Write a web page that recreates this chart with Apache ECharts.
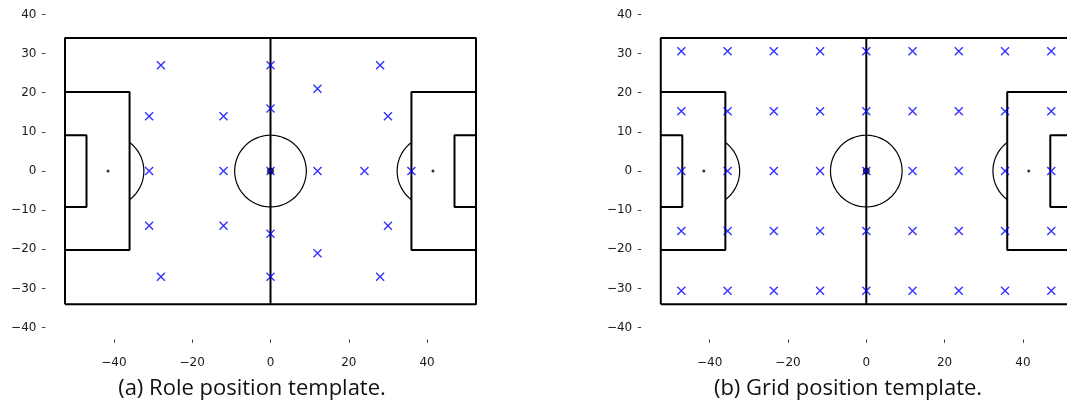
<!DOCTYPE html>
<html>
<head>
<meta charset="utf-8">
<script src="https://cdn.jsdelivr.net/npm/echarts@6/dist/echarts.min.js"></script>
<style>html,body{margin:0;padding:0;background:#fff;}#c{width:1067px;height:405px;}</style>
</head>
<body>
<div id="c"></div>
<script>
// ---- data ----
const captions = ['(a) Role position template.', '(b) Grid position template.'];
const xTicks = [-40, -20, 0, 20, 40];
const yTicks = [-40, -30, -20, -10, 0, 10, 20, 30, 40];

// role template positions (22 players)
const roleX = [-28, -31, -12, 0, 0, -31, -12, 0, -31, -28, -12, 0, 0, 12, 28, 30, 12, 24, 36, 12, 28, 30];
const roleY = [27, 14, 14, 27, 16, 0, 0, 0, -14, -27, -14, -16, -27, 21, 27, 14, 0, 0, 0, -21, -27, -14];

// grid template columns / rows
const gridCols = [-47.25, -35.44, -23.63, -11.81, 0, 11.81, 23.63, 35.44, 47.25];
const gridRows = [-30.6, -15.3, 0, 15.3, 30.6];

// pitch dimensions (metres)
const pitchLength = 105, pitchWidth = 68;
const boxDepth = 16.5, boxWidth = 40.32;
const goalDepth = 5.5, goalWidth = 18.32;
const circleRadius = 9.15, penaltyDist = 11;

// ---- build ----
const L = pitchLength / 2, W = pitchWidth / 2;
function circlePts(cx, cy, r, a0, a1) {
  const pts = [];
  const n = 90;
  for (let i = 0; i <= n; i++) {
    const a = (a0 + (a1 - a0) * i / n) * Math.PI / 180;
    pts.push([cx + r * Math.cos(a), cy + r * Math.sin(a)]);
  }
  return pts;
}
const arcAng = Math.acos((boxDepth - penaltyDist) / circleRadius) * 180 / Math.PI;
const thick = [
  [[-L, -W], [L, -W], [L, W], [-L, W], [-L, -W]],
  [[0, -W], [0, W]],
  [[-L, boxWidth / 2], [-L + boxDepth, boxWidth / 2], [-L + boxDepth, -boxWidth / 2], [-L, -boxWidth / 2]],
  [[L, boxWidth / 2], [L - boxDepth, boxWidth / 2], [L - boxDepth, -boxWidth / 2], [L, -boxWidth / 2]],
  [[-L, goalWidth / 2], [-L + goalDepth, goalWidth / 2], [-L + goalDepth, -goalWidth / 2], [-L, -goalWidth / 2]],
  [[L, goalWidth / 2], [L - goalDepth, goalWidth / 2], [L - goalDepth, -goalWidth / 2], [L, -goalWidth / 2]]
];
const thin = [
  circlePts(0, 0, circleRadius, 0, 360),
  circlePts(-L + penaltyDist, 0, circleRadius, -arcAng, arcAng),
  circlePts(L - penaltyDist, 0, circleRadius, 180 - arcAng, 180 + arcAng)
];

const rolePts = roleX.map((x, i) => [x, roleY[i]]);
const gridPts = [];
gridRows.forEach(y => gridCols.forEach(x => gridPts.push([x, y])));

const fmt = v => (v < 0 ? '\u2212' + (-v) : String(v));
const tickFont = { fontFamily: 'DejaVu Sans', fontSize: 12, color: '#1a1a1a' };

const grids = [
  { left: 45.4, top: 2.7, width: 450.2, height: 336.7, outerBoundsMode: 'none', containLabel: false },
  { left: 641.2, top: 2.7, width: 450.2, height: 336.7, outerBoundsMode: 'none', containLabel: false }
];
const xAxes = [], yAxes = [], series = [];
const xMarker = 'path://M0,0L10,10M10,0L0,10';
[rolePts, gridPts].forEach((pts, g) => {
  xAxes.push({
    type: 'value', gridIndex: g, min: -57.5, max: 57.5, position: 'bottom',
    axisLine: { show: false, onZero: false }, splitLine: { show: false },
    axisTick: { show: true, length: 3.5, customValues: xTicks, lineStyle: { color: '#444', width: 1 } },
    axisLabel: Object.assign({ customValues: xTicks, formatter: fmt, margin: 17 }, tickFont)
  });
  yAxes.push({
    type: 'value', gridIndex: g, min: -43, max: 43, position: 'left',
    axisLine: { show: false, onZero: false }, splitLine: { show: false },
    axisTick: { show: true, length: 3.5, customValues: yTicks, lineStyle: { color: '#444', width: 1 } },
    axisLabel: Object.assign({ customValues: yTicks, formatter: fmt, margin: 9 }, tickFont)
  });
  thick.forEach(p => series.push({
    type: 'line', xAxisIndex: g, yAxisIndex: g, data: p, showSymbol: false, silent: true,
    lineStyle: { color: '#000', width: 2 }, z: 2, animation: false
  }));
  thin.forEach(p => series.push({
    type: 'line', xAxisIndex: g, yAxisIndex: g, data: p, showSymbol: false, silent: true, smooth: false,
    lineStyle: { color: '#000', width: 1.2 }, z: 2, animation: false
  }));
  series.push({
    type: 'scatter', xAxisIndex: g, yAxisIndex: g, symbol: 'circle',
    data: [[-L + penaltyDist, 0], [L - penaltyDist, 0]], symbolSize: 3,
    itemStyle: { color: '#000' }, z: 3, animation: false
  });
  series.push({
    type: 'scatter', xAxisIndex: g, yAxisIndex: g, symbol: 'circle',
    data: [[0, 0]], symbolSize: 7,
    itemStyle: { color: '#000' }, z: 3, animation: false
  });
  series.push({
    type: 'scatter', xAxisIndex: g, yAxisIndex: g, symbol: xMarker, symbolSize: 8,
    data: pts, itemStyle: { color: '#0000ff', borderColor: '#0000ff', borderWidth: 1.4 },
    z: 4, animation: false
  });
});

const chart = echarts.init(document.getElementById('c'), null, { renderer: 'canvas' });
chart.setOption({
  backgroundColor: '#fff',
  animation: false,
  grid: grids,
  xAxis: xAxes,
  yAxis: yAxes,
  series: series,
  graphic: [
    { type: 'text', x: 252, y: 389, style: { text: captions[0], align: 'center', verticalAlign: 'middle', font: '22px "Open Sans"', fill: '#111' } },
    { type: 'text', x: 848, y: 389, style: { text: captions[1], align: 'center', verticalAlign: 'middle', font: '22px "Open Sans"', fill: '#111' } }
  ]
});
</script>
</body>
</html>
